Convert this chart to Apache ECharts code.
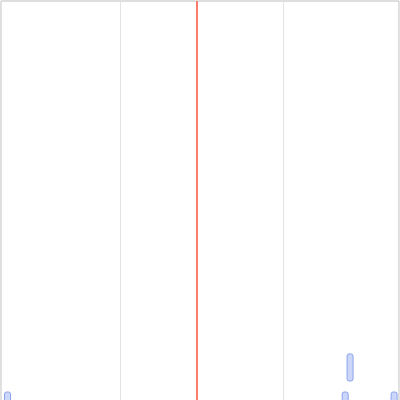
<!DOCTYPE html>
<html>
<head>
<meta charset="utf-8">
<script src="https://cdn.jsdelivr.net/npm/echarts@6/dist/echarts.min.js"></script>
<style>
  html, body { margin: 0; padding: 0; background: #fff; }
  #main { width: 400px; height: 400px; }
</style>
</head>
<body>
<div id="main"></div>
<script>
// 数据
const xPositions = [31, 238, 241, 268]
const yStart = [0, 0, 7.1, 0]
const yEnd = [4.4, 4.4, 13.7, 4.4]
const markValue = 147
const xMin = 27
const xMax = 271

const chart = echarts.init(document.getElementById('main'))

// 画每个小矩形
function renderItem(params, api) {
  const bottom = api.coord([api.value(0), api.value(1)])
  const top = api.coord([api.value(0), api.value(2)])
  const w = 6
  return {
    type: 'rect',
    shape: {
      x: bottom[0] - w / 2,
      y: top[1],
      width: w,
      height: bottom[1] - top[1],
      r: 2
    },
    style: {
      fill: '#cbd6f8',
      stroke: '#8aa3ee',
      lineWidth: 1
    }
  }
}

const seriesData = []
for (let i = 0; i < xPositions.length; i++) {
  seriesData.push([xPositions[i], yStart[i], yEnd[i]])
}

let option = {
  animation: false,
  grid: {
    left: 1,
    right: 1,
    top: 1,
    bottom: -10,
    outerBoundsMode: 'none',
    containLabel: false,
    show: true,
    borderColor: '#bdbdbd',
    borderWidth: 1
  },
  xAxis: {
    type: 'value',
    min: xMin,
    max: xMax,
    splitNumber: 2,
    axisLabel: { show: false },
    axisLine: { show: false },
    axisTick: { show: false },
    splitLine: {
      show: true,
      lineStyle: { color: '#e3e3e3', width: 1 }
    }
  },
  yAxis: {
    type: 'value',
    min: 0,
    max: 100,
    axisLabel: { show: false },
    axisLine: { show: false },
    axisTick: { show: false },
    splitLine: { show: false }
  },
  series: [{
      type: 'custom',
      renderItem: renderItem,
      encode: { x: 0, y: [1, 2] },
      data: seriesData
    },
    {
      type: 'line',
      data: [],
      markLine: {
        silent: true,
        symbol: 'none',
        label: { show: false },
        lineStyle: { color: '#ff7b6b', width: 2, type: 'solid' },
        data: [{ xAxis: markValue }]
      }
    }
  ]
}

chart.setOption(option)
</script>
</body>
</html>
